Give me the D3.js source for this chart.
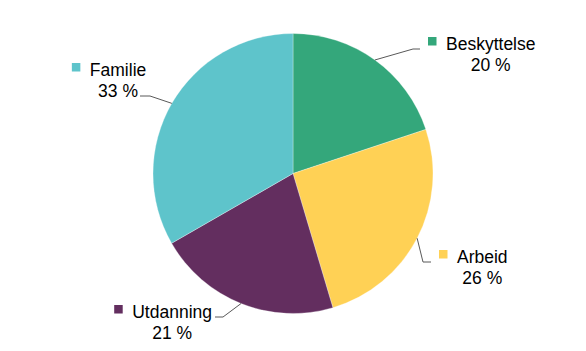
<!DOCTYPE html>
<html>
<head>
<meta charset="utf-8">
<script src="https://cdn.jsdelivr.net/npm/d3@7"></script>
<style>
  html, body { margin: 0; padding: 0; background: #fff; }
  svg { display: block; font-family: "Liberation Sans", Arial, sans-serif; }
</style>
</head>
<body>
<div id="container"></div>
<script>
const width = 586, height = 351;

// --- Data ---
const categories = ["Beskyttelse", "Arbeid", "Utdanning", "Familie"];
const shares = [19.9, 25.5, 21.3, 33.3];
const shareLabels = ["20 %", "26 %", "21 %", "33 %"];
const colors = ["#34a77b", "#ffd155", "#632e5f", "#5ec4cb"];

// label layout: elbow offset from centre, horizontal run, which text line the leader meets
const labelLayout = [
  { ex: 120, ey: -124.5, run: 7, side: "right", line: 0 },
  { ex: 130, ey: 88.5, run: 8, side: "right", line: 0 },
  { ex: -70, ey: 143.5, run: -8, side: "left", line: 0 },
  { ex: -143, ey: -77.5, run: -10, side: "left", line: 1 }
];

const cx = 293, cy = 173.5, r = 140;
const fs = 17.5, lineGap = 21;

const svg = d3.select("#container").append("svg")
  .attr("width", width).attr("height", height);

const g = svg.append("g").attr("transform", `translate(${cx},${cy})`);

const pie = d3.pie().sort(null).value(d => d)(shares);
const arc = d3.arc().innerRadius(0).outerRadius(r);

g.selectAll("path.slice").data(pie).join("path")
  .attr("class", "slice")
  .attr("d", arc)
  .attr("fill", (d, i) => colors[i])
  .attr("stroke", "#fff")
  .attr("stroke-width", 0.3);

// --- Leader lines & labels ---
pie.forEach((d, i) => {
  const mid = (d.startAngle + d.endAngle) / 2;
  const sx = Math.sin(mid) * r, sy = -Math.cos(mid) * r;
  const L = labelLayout[i];
  const endX = L.ex + L.run;
  g.append("polyline")
    .attr("points", `${sx},${sy} ${L.ex},${L.ey} ${endX},${L.ey}`)
    .attr("fill", "none")
    .attr("stroke", "#595959")
    .attr("stroke-width", 1);

  const nameY = L.ey + 0.5 - L.line * lineGap;
  const pctY = nameY + lineGap;

  const name = g.append("text")
    .attr("font-size", fs + "px")
    .attr("fill", "#000")
    .text(categories[i]);
  const pct = g.append("text")
    .attr("text-anchor", "middle")
    .attr("font-size", fs + "px")
    .attr("fill", "#000")
    .text(shareLabels[i]);
  const tw = name.node().getComputedTextLength();
  const pw = pct.node().getComputedTextLength();

  let textX;
  if (L.side === "right") {
    textX = endX + 26;
  } else if (L.line === 1) {
    textX = endX - 2 - (tw + pw) / 2;
  } else {
    textX = endX - 3 - tw;
  }
  const markerX = textX - 18;
  name.attr("x", textX).attr("y", nameY);
  pct.attr("x", textX + tw / 2).attr("y", pctY);
  g.append("rect")
    .attr("x", markerX).attr("y", nameY - 12.5)
    .attr("width", 8.5).attr("height", 8.5)
    .attr("fill", colors[i]);
});
</script>
</body>
</html>
